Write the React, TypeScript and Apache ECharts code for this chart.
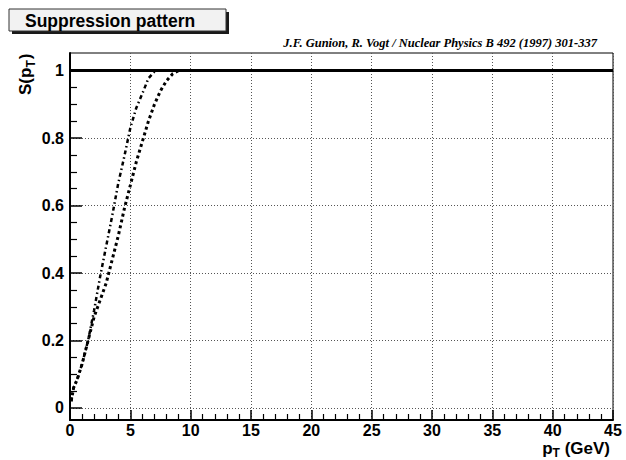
import React, { useEffect, useRef } from 'react';
import * as echarts from 'echarts';

const xMin = 0;
const xMax = 45;
const xStep = 5;
const yMin = -0.0356;
const yMax = 1.052;
const yMajorTicks = [0, 0.2, 0.4, 0.6, 0.8, 1];
const yMinorTicks = [0.05, 0.1, 0.15, 0.25, 0.3, 0.35, 0.45, 0.5, 0.55, 0.65, 0.7, 0.75, 0.85, 0.9, 0.95];

// solid line: S = 1
const solidX = [0, 45];
const solidY = [1, 1];

// dashed (thick dotted) curve, reaches 1 near pT = 9
const dashedX = [0.1, 0.3, 0.6, 1.0, 1.5, 2.0, 2.5, 3.0, 3.5, 4.0, 4.5, 5.0, 5.5, 6.0, 6.5, 7.0, 7.5, 8.0, 8.5, 9.0];
const dashedY = [0.02, 0.06, 0.085, 0.13, 0.2, 0.27, 0.32, 0.37, 0.44, 0.51, 0.59, 0.66, 0.73, 0.79, 0.85, 0.9, 0.94, 0.97, 0.99, 1.0];

// dash-dot curve, reaches 1 near pT = 7
const dashDotX = [0.1, 0.3, 0.6, 1.0, 1.5, 2.0, 2.5, 3.0, 3.5, 4.0, 4.5, 5.0, 5.5, 6.0, 6.5, 7.0, 7.2];
const dashDotY = [0.02, 0.06, 0.085, 0.13, 0.2, 0.29, 0.39, 0.48, 0.57, 0.666, 0.745, 0.83, 0.89, 0.932, 0.977, 0.997, 1.0];

const titleText = 'Suppression pattern';
const refText = 'J.F. Gunion, R. Vogt / Nuclear Physics B 492 (1997) 301-337';

const SANS = "'Liberation Sans', Arial, Helvetica, sans-serif";
const SERIF = "'Liberation Serif', 'Times New Roman', Times, serif";

function measure(text: string, font: string): number {
  const c = document.createElement('canvas').getContext('2d');
  if (!c) return text.length * 8;
  c.font = font;
  return c.measureText(text).width;
}

const zip = (xs: number[], ys: number[]) => xs.map((x, i) => [x, ys[i]]);

export default function App() {
  const ref = useRef<HTMLDivElement>(null);
  useEffect(() => {
    if (!ref.current) return;
    const chart = echarts.init(ref.current, null, { renderer: 'svg' });

    const bigSize = 17;
    const smallSize = 12;
    const big = `bold ${bigSize}px ${SANS}`;
    const small = `bold ${smallSize}px ${SANS}`;
    // x axis title pieces
    const wP = measure('p', big);
    const wT = measure('T', small);
    const wG = measure(' (GeV)', big);
    const xRight = 610;
    const xStart = xRight - (wP + wT + wG);
    const xBase = 454;
    const cBig = 0.3465 * bigSize;
    const cSmall = 0.3465 * smallSize;
    // y axis title pieces
    const wS = measure('S(p', big);

    const bigStyle = { fontSize: bigSize, fontWeight: 'bold', fontFamily: SANS, fill: '#000' };
    const smallStyle = { fontSize: smallSize, fontWeight: 'bold', fontFamily: SANS, fill: '#000' };

    chart.setOption({
      animation: false,
      backgroundColor: '#fff',
      grid: {
        left: 70,
        right: 13,
        top: 53,
        bottom: 40,
        show: true,
        borderColor: '#000',
        borderWidth: 1,
        backgroundColor: 'transparent',
      },
      xAxis: {
        type: 'value',
        min: xMin,
        max: xMax,
        interval: xStep,
        axisLine: { show: true, onZero: false, lineStyle: { color: '#000', width: 2 } },
        axisTick: { show: true, inside: true, length: 10, lineStyle: { color: '#000', width: 1.5 } },
        minorTick: { show: true, splitNumber: 5, length: 6, lineStyle: { color: '#000', width: 1.2 } },
        splitLine: { show: true, lineStyle: { color: '#555', width: 1, type: [1, 2] } },
        axisLabel: {
          show: true,
          margin: 2,
          color: '#000',
          fontSize: 16,
          fontWeight: 'bold',
          fontFamily: SANS,
          showMinLabel: true,
          showMaxLabel: true,
        },
      },
      yAxis: [
        {
          type: 'value',
          min: yMin,
          max: yMax,
          axisLine: { show: true, onZero: false, lineStyle: { color: '#000', width: 2 } },
          axisTick: { show: true, inside: true, length: 12, customValues: yMajorTicks, lineStyle: { color: '#000', width: 1.5 } },
          splitLine: { show: true, lineStyle: { color: '#555', width: 1, type: [1, 2] } },
          axisLabel: {
            show: true,
            customValues: yMajorTicks,
            margin: 6,
            color: '#000',
            fontSize: 16,
            fontWeight: 'bold',
            fontFamily: SANS,
            formatter: (v: number) => String(Math.round(v * 10) / 10),
          },
        },
        {
          type: 'value',
          min: yMin,
          max: yMax,
          position: 'left',
          axisLine: { show: false },
          axisTick: { show: true, inside: true, length: 7, customValues: yMinorTicks, lineStyle: { color: '#000', width: 1.2 } },
          splitLine: { show: false },
          axisLabel: { show: false },
        },
      ],
      series: [
        {
          type: 'line',
          data: zip(dashDotX, dashDotY),
          showSymbol: false,
          symbol: 'none',
          lineStyle: { color: '#000', width: 2.5, type: [4, 3, 1.5, 3] },
          z: 3,
        },
        {
          type: 'line',
          data: zip(dashedX, dashedY),
          showSymbol: false,
          symbol: 'none',
          lineStyle: { color: '#000', width: 3, type: [3, 3] },
          z: 3,
        },
        {
          type: 'line',
          data: zip(solidX, solidY),
          showSymbol: false,
          symbol: 'none',
          lineStyle: { color: '#000', width: 3 },
          z: 4,
        },
      ],
      graphic: [
        // title box shadow
        { type: 'rect', shape: { x: 12, y: 12, width: 217, height: 22 }, style: { fill: '#1a1a1a' }, z: 10 },
        { type: 'rect', shape: { x: 9, y: 9, width: 217, height: 22 }, style: { fill: '#f2f2f2', stroke: '#333', lineWidth: 1 }, z: 11 },
        {
          type: 'text',
          x: 25,
          y: 20.5,
          style: { text: titleText, fontSize: 17.5, fontWeight: 'bold', fontFamily: SANS, fill: '#000', align: 'left', verticalAlign: 'middle' },
          z: 12,
        },
        {
          type: 'text',
          x: 597,
          y: 43,
          style: { text: refText, fontSize: 12.5, fontWeight: 'bold', fontStyle: 'italic', fontFamily: SERIF, fill: '#000', align: 'right', verticalAlign: 'middle' },
          z: 12,
        },
        // x axis title: p_T (GeV)
        { type: 'text', x: xStart, y: xBase - cBig, style: { ...bigStyle, text: 'p', align: 'left', verticalAlign: 'middle' }, z: 12 },
        { type: 'text', x: xStart + wP, y: xBase + 3.5 - cSmall, style: { ...smallStyle, text: 'T', align: 'left', verticalAlign: 'middle' }, z: 12 },
        { type: 'text', x: xStart + wP + wT, y: xBase - cBig, style: { ...bigStyle, text: ' (GeV)', align: 'left', verticalAlign: 'middle' }, z: 12 },
        // y axis title: S(p_T), rotated
        {
          type: 'group',
          x: 31,
          y: 95,
          rotation: Math.PI / 2,
          z: 12,
          children: [
            { type: 'text', x: 0, y: -cBig, style: { ...bigStyle, text: 'S(p', align: 'left', verticalAlign: 'middle' } },
            { type: 'text', x: wS, y: 4 - cSmall, style: { ...smallStyle, text: 'T', align: 'left', verticalAlign: 'middle' } },
            { type: 'text', x: wS + wT + 1, y: -cBig, style: { ...bigStyle, text: ')', align: 'left', verticalAlign: 'middle' } },
          ],
        },
      ],
    });
    return () => chart.dispose();
  }, []);
  return <div ref={ref} style={{ width: 626, height: 460, position: 'absolute', left: 0, top: 0 }} />;
}
